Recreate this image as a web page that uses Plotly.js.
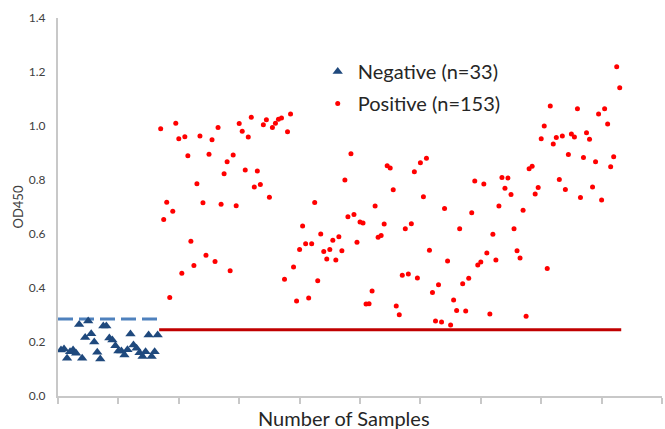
<!DOCTYPE html>
<html>
<head>
<meta charset="utf-8">
<script src="https://cdn.plot.ly/plotly-3.0.1.min.js"></script>
<style>html,body{margin:0;padding:0;background:#fff;}#chart{width:665px;height:429px;}</style>
</head>
<body>
<div id="chart"></div>
<script>
// Negative samples (index 1..33)
const negativeValues = [0.170,0.174,0.140,0.164,0.170,0.158,0.265,0.140,0.217,0.278,0.231,0.200,0.162,0.137,0.259,0.259,0.215,0.207,0.186,0.167,0.167,0.152,0.171,0.230,0.189,0.177,0.160,0.146,0.164,0.226,0.146,0.164,0.226];
// Positive samples (index 34..186)
const positiveValues = [
0.990,0.654,0.718,0.365,0.684,1.010,0.953,0.455,0.960,0.890,
0.573,0.483,0.786,0.963,0.716,0.521,0.895,0.949,0.498,0.994,
0.710,0.823,0.868,0.464,0.893,0.705,1.009,0.981,0.837,0.959,
1.032,0.774,0.833,0.783,1.005,1.023,0.736,0.994,1.010,1.025,
1.030,0.432,0.979,1.044,0.478,0.352,0.543,0.630,0.564,0.363,
0.564,0.717,0.427,0.600,0.535,0.507,0.543,0.577,0.504,0.590,
0.538,0.800,0.664,0.897,0.672,0.569,0.644,0.641,0.341,0.342,
0.389,0.704,0.588,0.594,0.637,0.853,0.844,0.764,0.333,0.301,
0.447,0.619,0.452,0.638,0.831,0.437,0.864,0.738,0.881,0.540,
0.383,0.278,0.412,0.274,0.694,0.500,0.263,0.356,0.317,0.619,
0.416,0.315,0.436,0.679,0.796,0.485,0.496,0.785,0.530,0.304,
0.599,0.504,0.704,0.809,0.769,0.807,0.746,0.619,0.538,0.511,
0.688,0.295,0.842,0.851,0.748,0.772,0.953,1.000,0.472,1.074,
0.933,0.957,0.802,0.963,0.765,0.894,0.970,0.959,1.064,0.735,
0.883,0.975,0.951,0.774,0.868,1.044,0.726,1.064,1.007,0.849,
0.886,1.219,1.142];
const negativeX = negativeValues.map((v,i)=>i+1);
const positiveX = positiveValues.map((v,i)=>i+34);
// Cut-off lines
const negCutoffX = [0, 33];
const negCutoffY = [0.285, 0.285];
const posCutoffX = [33.5, 186.5];
const posCutoffY = [0.245, 0.245];
const legendNames = ['Negative (n=33)', 'Positive (n=153)'];
const yTicks = [0,0.2,0.4,0.6,0.8,1.0,1.2,1.4];
const xTitle = 'Number of Samples';
const yTitle = 'OD450';

const font = 'Lato, "Open Sans", sans-serif';
const traces = [
  {x: negCutoffX, y: negCutoffY, mode:'lines', line:{color:'#4f81bd', width:3, dash:'15px,6px'}, showlegend:false, hoverinfo:'skip'},
  {x: posCutoffX, y: posCutoffY, mode:'lines', line:{color:'#c00000', width:3}, showlegend:false, hoverinfo:'skip'},
  {x: negativeX, y: negativeValues, mode:'markers', name: legendNames[0], legendgroup:'a',
   marker:{symbol:'triangle-up', size:9, color:'#1f497d'}},
  {x: positiveX, y: positiveValues, mode:'markers', name: legendNames[1], legendgroup:'b',
   marker:{symbol:'circle', size:5, color:'#ff0000'}}
];
const layout = {
  width:665, height:429,
  margin:{l:58, r:3, t:18, b:33},
  paper_bgcolor:'#fff', plot_bgcolor:'#fff',
  font:{family:font, color:'#404040'},
  showlegend:true,
  legend:{x:0.430, y:0.910, xanchor:'left', yanchor:'top', font:{size:20, color:'#262626', family:font},
          bgcolor:'rgba(0,0,0,0)', itemwidth:30, traceorder:'grouped', tracegroupgap:3},
  xaxis:{range:[0,200], dtick:20, tick0:0, showticklabels:false, showgrid:false, zeroline:false,
         showline:true, linecolor:'#c8c8c8', linewidth:2, ticks:'outside', ticklen:6, tickwidth:2, tickcolor:'#c8c8c8',
         automargin:false},
  yaxis:{range:[0,1.4], tickvals:yTicks, tickformat:'.1f', showgrid:false, zeroline:false,
         showline:true, linecolor:'#c8c8c8', linewidth:2, ticks:'', ticklabelstandoff:8,
         tickfont:{size:12, color:'#404040', family:font},
         title:{text:yTitle, font:{size:13, color:'#404040', family:font}, standoff:2}, automargin:false},
  annotations:[
    {text:xTitle, xref:'paper', yref:'paper', x:0.4735, y:-0.057, xanchor:'center', yanchor:'middle',
     showarrow:false, font:{size:20, color:'#262626', family:font}}
  ]
};
Plotly.newPlot('chart', traces, layout, {displayModeBar:false, staticPlot:true});
</script>
</body>
</html>
